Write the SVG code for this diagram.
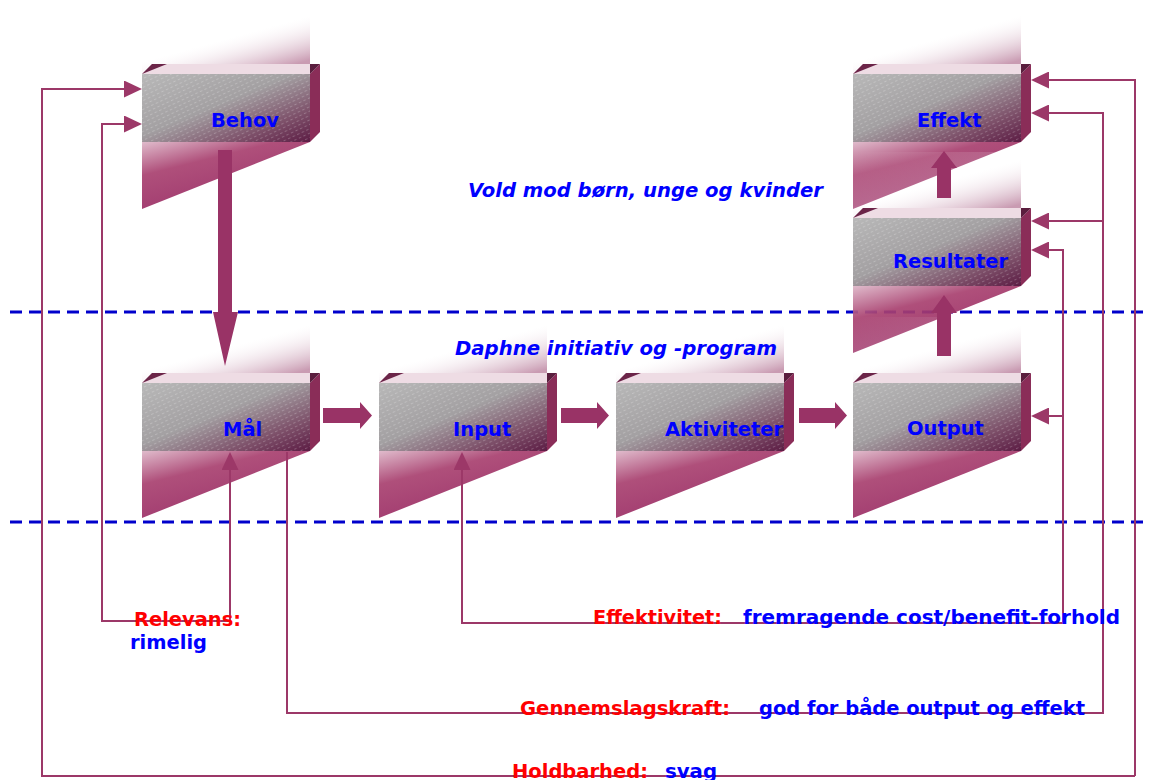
<svg xmlns="http://www.w3.org/2000/svg" xmlns:xlink="http://www.w3.org/1999/xlink" width="1155" height="780" viewBox="0 0 1155 780">
<style>
.lbl{font-family:"DejaVu Sans","Liberation Sans",sans-serif;font-weight:bold;font-size:19.5px;fill:#0000FF}
.hdr{font-family:"DejaVu Sans","Liberation Sans",sans-serif;font-weight:bold;font-style:italic;font-size:19.5px;fill:#0000FF}
.red{font-family:"DejaVu Sans","Liberation Sans",sans-serif;font-weight:bold;font-size:19px;fill:#FF0000}
.blu{font-family:"DejaVu Sans","Liberation Sans",sans-serif;font-weight:bold;font-size:19px;fill:#0000FF}
.ln{fill:none;stroke:#9C3868;stroke-width:2;marker-end:url(#ah)}
.big{fill:#993366}
.dash{stroke:#0000CC;stroke-width:3;stroke-dasharray:12 7;fill:none}
</style>
<defs>
<linearGradient id="fade" x1="0" y1="0" x2="0.7" y2="1">
<stop offset="0" stop-color="#FFFFFF" stop-opacity="0"/>
<stop offset="0.55" stop-color="#FFFFFF" stop-opacity="0.2"/>
<stop offset="1" stop-color="#C99BB2" stop-opacity="1"/>
</linearGradient>
<linearGradient id="front" x1="0" y1="0" x2="1" y2="1">
<stop offset="0" stop-color="#B8B8B8"/>
<stop offset="0.45" stop-color="#A3A0A2"/>
<stop offset="0.78" stop-color="#7C4E68"/>
<stop offset="1" stop-color="#5C1C44"/>
</linearGradient>
<linearGradient id="refl" x1="0" y1="0" x2="0.5" y2="0.8">
<stop offset="0" stop-color="#DDB5C7"/>
<stop offset="0.45" stop-color="#A8406F"/>
<stop offset="1" stop-color="#9A2C64"/>
</linearGradient>
<pattern id="tex" width="5" height="4" patternUnits="userSpaceOnUse" patternTransform="rotate(-25)">
<rect x="0" y="0" width="2.5" height="1" fill="#FFFFFF" opacity="0.22"/>
</pattern>
<marker id="ah" viewBox="0 0 18 17" refX="15" refY="8.5" markerWidth="18" markerHeight="17" markerUnits="userSpaceOnUse" orient="auto">
<path d="M0,0 L18,8.5 L0,17 z" fill="#9C3868"/>
</marker>
<g id="box">
<rect x="0" y="-66" width="168" height="66" fill="url(#fade)"/>
<polygon points="0,0 10,-10 178,-10 168,0" fill="#EEDCE4"/>
<polygon points="0,0 25,-10 10,-10" fill="#6B2448"/>
<polygon points="168,0 178,-10 178,58 168,68" fill="#8A2D58"/>
<polygon points="168,-10 178,-10 168,0" fill="#5A1E3E"/>
<rect x="0" y="0" width="168" height="68" fill="url(#front)"/>
<rect x="0" y="0" width="168" height="68" fill="url(#tex)"/>
<polygon points="0,68 168,68 0,135" fill="url(#refl)" opacity="0.92"/>
</g>
</defs>
<rect x="0" y="0" width="1155" height="780" fill="#FFFFFF"/>
<g id="dividers">
<line class="dash" x1="10" y1="312" x2="1150" y2="312"/>
<line class="dash" x1="10" y1="522" x2="1150" y2="522"/>
</g>
<g id="node-behov" transform="translate(142,74)">
<use xlink:href="#box"/>
<text class="lbl" x="69" y="53">Behov</text>
</g>
<g id="node-effekt" transform="translate(853,74)">
<use xlink:href="#box"/>
<text class="lbl" x="64" y="53">Effekt</text>
</g>
<g id="node-resultater" transform="translate(853,218)">
<use xlink:href="#box"/>
<text class="lbl" x="40" y="50">Resultater</text>
</g>
<g id="node-maal" transform="translate(142,383)">
<use xlink:href="#box"/>
<text class="lbl" x="81" y="53">Mål</text>
</g>
<g id="node-input" transform="translate(379,383)">
<use xlink:href="#box"/>
<text class="lbl" x="74" y="53">Input</text>
</g>
<g id="node-aktiviteter" transform="translate(616,383)">
<use xlink:href="#box"/>
<text class="lbl" x="49" y="53">Aktiviteter</text>
</g>
<g id="node-output" transform="translate(853,383)">
<use xlink:href="#box"/>
<text class="lbl" x="54" y="52">Output</text>
</g>
<g id="connectors">
<polygon class="big" points="218,150 232,150 232,312 238,312 225,366 213,312 218,312"/>
<polygon class="big" points="323,408 360,408 360,402 372,415.5 360,429 360,423 323,423"/>
<polygon class="big" points="561,408 597,408 597,402 609,415.5 597,429 597,423 561,423"/>
<polygon class="big" points="799,408 835,408 835,402 847,415.5 835,429 835,423 799,423"/>
<polygon class="big" points="937,356 951,356 951,313 957,313 944,295 931,313 937,313"/>
<polygon class="big" points="937,198 951,198 951,168 957,168 944,151 931,168 937,168"/>
<path class="ln" d="M1135,776 H42 V89 H139"/>
<path class="ln" d="M1135,776 V80 H1034"/>
<path class="ln" d="M287,452 V713 H1103 V113 H1034"/>
<path class="ln" d="M1103,221 H1034"/>
<path class="ln" d="M1063,416 H1034"/>
<path class="ln" d="M1063,623 V250 H1034"/>
<path class="ln" d="M1063,623 H462 V455"/>
<path class="ln" d="M230,621 V455"/>
<path class="ln" d="M230,621 H102 V124 H139"/>
</g>
<g id="labels">
<text class="hdr" x="468" y="197" textLength="355" lengthAdjust="spacingAndGlyphs">Vold mod børn, unge og kvinder</text>
<text class="hdr" x="455" y="355" textLength="322" lengthAdjust="spacingAndGlyphs">Daphne initiativ og -program</text>
<text class="red" x="134" y="626" textLength="107" lengthAdjust="spacingAndGlyphs">Relevans:</text>
<text class="blu" x="130" y="649" textLength="77" lengthAdjust="spacingAndGlyphs">rimelig</text>
<text class="red" x="593" y="624" textLength="129" lengthAdjust="spacingAndGlyphs">Effektivitet:</text>
<text class="blu" x="743" y="624" textLength="377" lengthAdjust="spacingAndGlyphs">fremragende cost/benefit-forhold</text>
<text class="red" x="520" y="715" textLength="210" lengthAdjust="spacingAndGlyphs">Gennemslagskraft:</text>
<text class="blu" x="759" y="715" textLength="326" lengthAdjust="spacingAndGlyphs">god for både output og effekt</text>
<text class="red" x="512" y="778" textLength="136" lengthAdjust="spacingAndGlyphs">Holdbarhed:</text>
<text class="blu" x="665" y="778" textLength="52" lengthAdjust="spacingAndGlyphs">svag</text>
</g>
</svg>
